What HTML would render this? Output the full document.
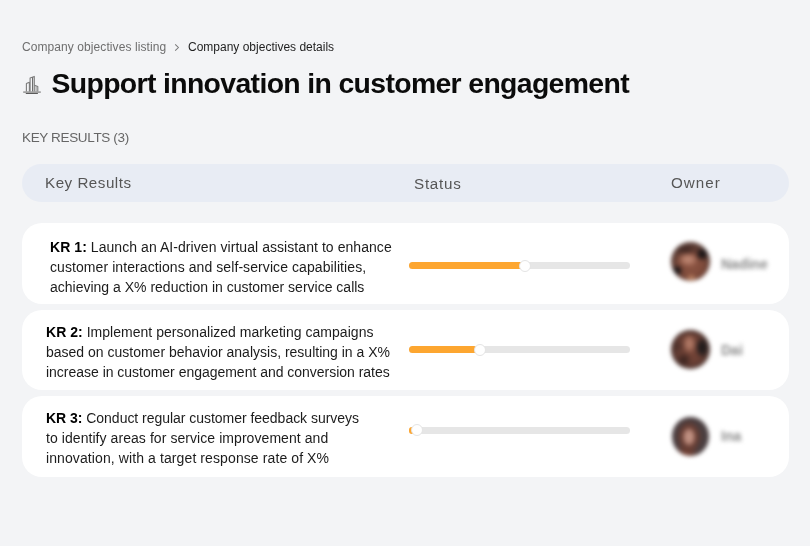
<!DOCTYPE html>
<html>
<head>
<meta charset="utf-8">
<style>
*{margin:0;padding:0;box-sizing:border-box;}
html,body{width:810px;height:546px;overflow:hidden;background:#f3f4f6;}
body{position:relative;font-family:"Liberation Sans",Arial,sans-serif;}
.a{position:absolute;white-space:nowrap;}
#bc1{left:22px;top:40px;font-size:12px;letter-spacing:0.08px;color:#6e6e6e;}
#chev{left:173px;top:43px;width:8px;height:9px;}
#bc2{left:188px;top:40px;font-size:12px;color:#1e1e1e;}
#ico{left:20px;top:72px;width:24px;height:24px;}
#title{left:51.5px;top:67.1px;font-size:28.4px;letter-spacing:-0.65px;font-weight:bold;color:#0b0b0b;}
#kr{left:22px;top:129.5px;font-size:13.5px;letter-spacing:-0.35px;color:#666;}
#hdr{left:22px;top:164px;width:767px;height:37.6px;border-radius:19px;background:#e8ecf4;}
.h{font-size:15.2px;color:#565656;letter-spacing:0.5px;}
#h1{left:45px;top:173.6px;}
#h2{left:414px;top:174.8px;letter-spacing:0.75px;}
#h3{left:671px;top:173.6px;letter-spacing:1px;}
.card{position:absolute;left:22px;width:767px;background:#fff;border-radius:20px;}
.txt{position:absolute;font-size:14px;line-height:20px;color:#1c1c1c;white-space:nowrap;overflow:hidden;}
.txt b{color:#000;}
.track{position:absolute;left:409px;width:221px;height:7px;border-radius:4px;background:#e6e6e6;}
.fill{position:absolute;left:0;top:0;height:7px;border-radius:4px;background:#fda630;}
.thumb{position:absolute;width:12px;height:12px;border-radius:50%;background:#fff;border:1px solid #e4e4e4;}
.av{position:absolute;width:39px;height:39px;border-radius:50%;filter:blur(2px);}
.nm{position:absolute;font-size:14px;font-weight:bold;color:#8a8a8a;filter:blur(2.2px);}
</style>
</head>
<body>
<div class="a" id="bc1">Company objectives listing</div>
<svg class="a" id="chev" viewBox="0 0 8 9"><path d="M2.2 1.3 L5.4 4.5 L2.2 7.7" fill="none" stroke="#7a7a7a" stroke-width="1.05"/></svg>
<div class="a" id="bc2">Company objectives details</div>
<svg class="a" id="ico" viewBox="20 72 24 24"><g fill="none" stroke="#7c7c7c" stroke-width="1.1" stroke-linejoin="round"><path d="M26.4 91.6V83.5L29.4 82.3V91.6"/><path d="M30.1 91.6V78.1L34.3 76.4V91.6"/><path d="M32.6 77.2V91.6" stroke="#666"/><path d="M34.4 85.3L37.8 86.6V91.6"/><path d="M36.1 86V91.6" stroke="#999"/><path d="M23.2 92.1H40.8" stroke-width="1.4" stroke="#8c8c8c"/><path d="M25.8 93.5H37.9" stroke-width="1" stroke="#5a5a5a"/></g></svg>
<div class="a" id="title">Support innovation in customer engagement</div>
<div class="a" id="kr">KEY RESULTS (3)</div>
<div class="a" id="hdr"></div>
<div class="a h" id="h1">Key Results</div>
<div class="a h" id="h2">Status</div>
<div class="a h" id="h3">Owner</div>

<div class="card" style="top:223px;height:81px;"></div>
<div class="card" style="top:310px;height:80px;"></div>
<div class="card" style="top:396px;height:81px;"></div>

<div class="txt" style="left:50px;top:237px;height:57.5px;"><span style="letter-spacing:0.06px"><b>KR 1:</b> Launch an AI-driven virtual assistant to enhance</span><br><span style="letter-spacing:0.08px">customer interactions and self-service capabilities,</span><br>achieving a X% reduction in customer service calls</div>
<div class="txt" style="left:46px;top:322px;height:57.5px;"><span style="letter-spacing:0.03px"><b>KR 2:</b> Implement personalized marketing campaigns</span><br>based on customer behavior analysis, resulting in a X%<br><span style="letter-spacing:-0.02px">increase in customer engagement and conversion rates</span></div>
<div class="txt" style="left:46px;top:408px;height:57.5px;"><span style="letter-spacing:-0.03px"><b>KR 3:</b> Conduct regular customer feedback surveys</span><br><span style="letter-spacing:0.065px">to identify areas for service improvement and</span><br><span style="letter-spacing:0.1px">innovation, with a target response rate of X%</span></div>

<div class="track" style="top:262px;"><div class="fill" style="width:114px;"></div></div>
<div class="thumb" style="left:519px;top:260px;"></div>
<div class="track" style="top:346.2px;"><div class="fill" style="width:68px;"></div></div>
<div class="thumb" style="left:474px;top:344px;"></div>
<div class="track" style="top:427px;"><div class="fill" style="width:6px;"></div></div>
<div class="thumb" style="left:411px;top:424px;"></div>

<div class="av" style="left:670.7px;top:241.9px;background:
radial-gradient(circle 7px at 80% 31%,#171313 0,#221a1a 45%,rgba(34,26,26,0) 100%),
radial-gradient(circle 6px at 16% 73%,#171313 0,#221a1a 40%,rgba(34,26,26,0) 100%),
radial-gradient(ellipse 10px 7px at 44% 45%,#c08a76 0,#b07864 50%,rgba(170,112,92,0) 100%),
radial-gradient(ellipse 6px 4px at 52% 92%,#d0946e 0,rgba(208,148,110,0) 100%),
radial-gradient(ellipse 14px 6px at 38% 20%,#3a2420 0,rgba(58,36,32,0) 100%),
radial-gradient(circle 19px at 52% 58%,#8e5644 0,#7e4a3a 65%,#5e4038 100%);"></div>
<div class="nm" style="left:721px;top:256px;">Nadine</div>
<div class="av" style="left:670.9px;top:329.5px;background:
radial-gradient(ellipse 7px 11px at 80% 45%,#1c1818 0,#282020 50%,rgba(40,32,32,0) 100%),
radial-gradient(circle 8px at 33% 76%,#34201c 0,rgba(52,32,28,0) 100%),
radial-gradient(ellipse 7px 10px at 47% 35%,#b8826e 0,#a36c5a 50%,rgba(160,105,85,0) 100%),
radial-gradient(circle 8px at 15% 42%,#4a302a 0,rgba(74,48,42,0) 100%),
radial-gradient(circle 20px at 50% 50%,#784638 0,#6a3f34 70%,#4c3632 100%);"></div>
<div class="nm" style="left:721px;top:342px;">Dai</div>
<div class="av" style="left:671.7px;top:416.5px;width:37px;height:39.5px;background:
radial-gradient(ellipse 7px 10px at 46% 51%,#c69888 0,#b9887a 60%,rgba(160,110,95,0) 100%),
radial-gradient(ellipse 13px 17px at 46% 51%,#74463a 0,#663d33 65%,rgba(80,56,52,0) 100%),
radial-gradient(circle 12px at 40% 92%,#7a4232 0,rgba(122,66,50,0) 100%),
#4a3e40;"></div>
<div class="nm" style="left:721px;top:428px;">Ina</div>
</body>
</html>
